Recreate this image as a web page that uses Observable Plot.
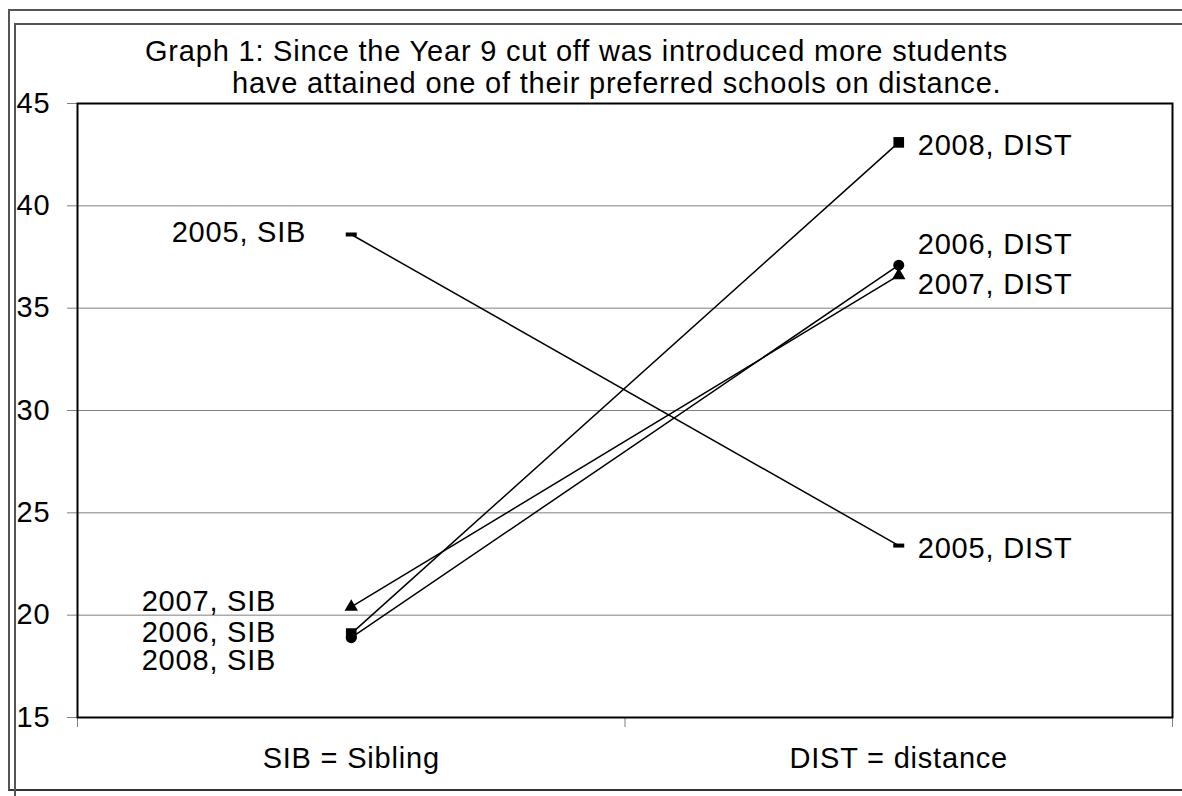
<!DOCTYPE html>
<html>
<head>
<meta charset="utf-8">
<script src="https://cdn.jsdelivr.net/npm/d3@7"></script>
<script src="https://cdn.jsdelivr.net/npm/@observablehq/plot@0.6"></script>
<style>
  body { margin: 0; background: #fff; }
  #wrap { position: relative; width: 1182px; height: 796px; overflow: hidden; font-family: "Liberation Sans", Arial, sans-serif; }
  #chart { position: absolute; left: 0; top: 0; }
  .frame { position: absolute; pointer-events: none; }
  #outer { left: 8px; top: 9px; right: -5px; height: 778px; border-left: 2px solid #555; border-top: 2px solid #555; border-bottom: 2px solid #333; }
  #inner { left: 14px; top: 23px; right: -5px; bottom: -5px; border-left: 2px solid #555; border-top: 2px solid #555; }
  .title { position: absolute; font-size: 29px; line-height: 32px; letter-spacing: 0.8px; color: #000; white-space: pre; }
</style>
</head>
<body>
<div id="wrap">
  <div id="chart"></div>
  <div class="frame" id="outer"></div>
  <div class="frame" id="inner"></div>
  <div class="title" style="left:145px; top:35px;">Graph 1: Since the Year 9 cut off was introduced more students</div>
  <div class="title" style="left:232px; top:67px;">have attained one of their preferred schools on distance.</div>
</div>
<script>
// ---- data ----
const categories = ["SIB = Sibling", "DIST = distance"];
const sideTags = ["SIB", "DIST"];
const years = ["2005", "2006", "2007", "2008"];
const sibValues = [38.6, 18.9, 20.4, 19.1];
const distValues = [23.4, 37.1, 36.6, 43.1];
const yTicks = [15, 20, 25, 30, 35, 40, 45];
const gridTicks = [20, 25, 30, 35, 40];

const rows = years.flatMap((yr, i) => [
  { year: yr, side: 0, tag: sideTags[0], value: sibValues[i] },
  { year: yr, side: 1, tag: sideTags[1], value: distValues[i] }
]);

const xOf = d => d.side + 0.5;

const dash = { draw(ctx) { ctx.rect(-5.5, -2, 11, 4); } };
const markerStyle = [
  { year: "2005", symbol: dash, r: 4 },
  { year: "2006", symbol: "circle", r: 5.5 },
  { year: "2007", symbol: "triangle", r: 5 },
  { year: "2008", symbol: "square", r: 6 }
];

function label(year, side, dx, dy) {
  return Plot.text(rows.filter(d => d.year === year && d.side === side), {
    x: xOf, y: "value", text: d => `${d.year}, ${d.tag}`,
    textAnchor: side === 0 ? "end" : "start", dx, dy, fontSize: 29, fill: "black"
  });
}

const chart = Plot.plot({
  width: 1182,
  height: 796,
  marginLeft: 77,
  marginRight: 10,
  marginTop: 103,
  marginBottom: 79,
  style: { fontFamily: "'Liberation Sans', Arial, sans-serif", fontSize: "29px", letterSpacing: "0.8px", background: "transparent", overflow: "visible" },
  x: { domain: [0, categories.length], label: null },
  y: { domain: [15, 45], label: null },
  marks: [
    Plot.ruleY(gridTicks, { stroke: "#808080", strokeWidth: 1 }),
    Plot.axisY(yTicks, { label: null, tickSize: 10, tickPadding: 51, textAnchor: "start", stroke: "#808080", fill: "black", fontSize: 29, strokeWidth: 1 }),
    Plot.axisX([0, 1, 2], { label: null, tickSize: 10, tickFormat: () => "", stroke: "#808080", strokeWidth: 1 }),
    Plot.text(categories, { x: (d, i) => i + 0.5, frameAnchor: "bottom", dy: 50, fontSize: 29, fill: "black" }),
    Plot.frame({ stroke: "black", strokeWidth: 2 }),
    Plot.line(rows, { x: xOf, y: "value", z: "year", stroke: "black", strokeWidth: 1.5 }),
    ...markerStyle.map(m => Plot.dot(rows.filter(d => d.year === m.year), {
      x: xOf, y: "value", symbol: m.symbol, r: m.r, fill: "black", stroke: "none"
    })),
    label("2005", 0, -45, -2),
    label("2007", 0, -75, -5),
    label("2006", 0, -75, -5),
    label("2008", 0, -75, 27),
    label("2008", 1, 19, 3),
    label("2006", 1, 19, -20),
    label("2007", 1, 19, 9),
    label("2005", 1, 19, 3)
  ]
});
document.getElementById("chart").appendChild(chart);
</script>
</body>
</html>
